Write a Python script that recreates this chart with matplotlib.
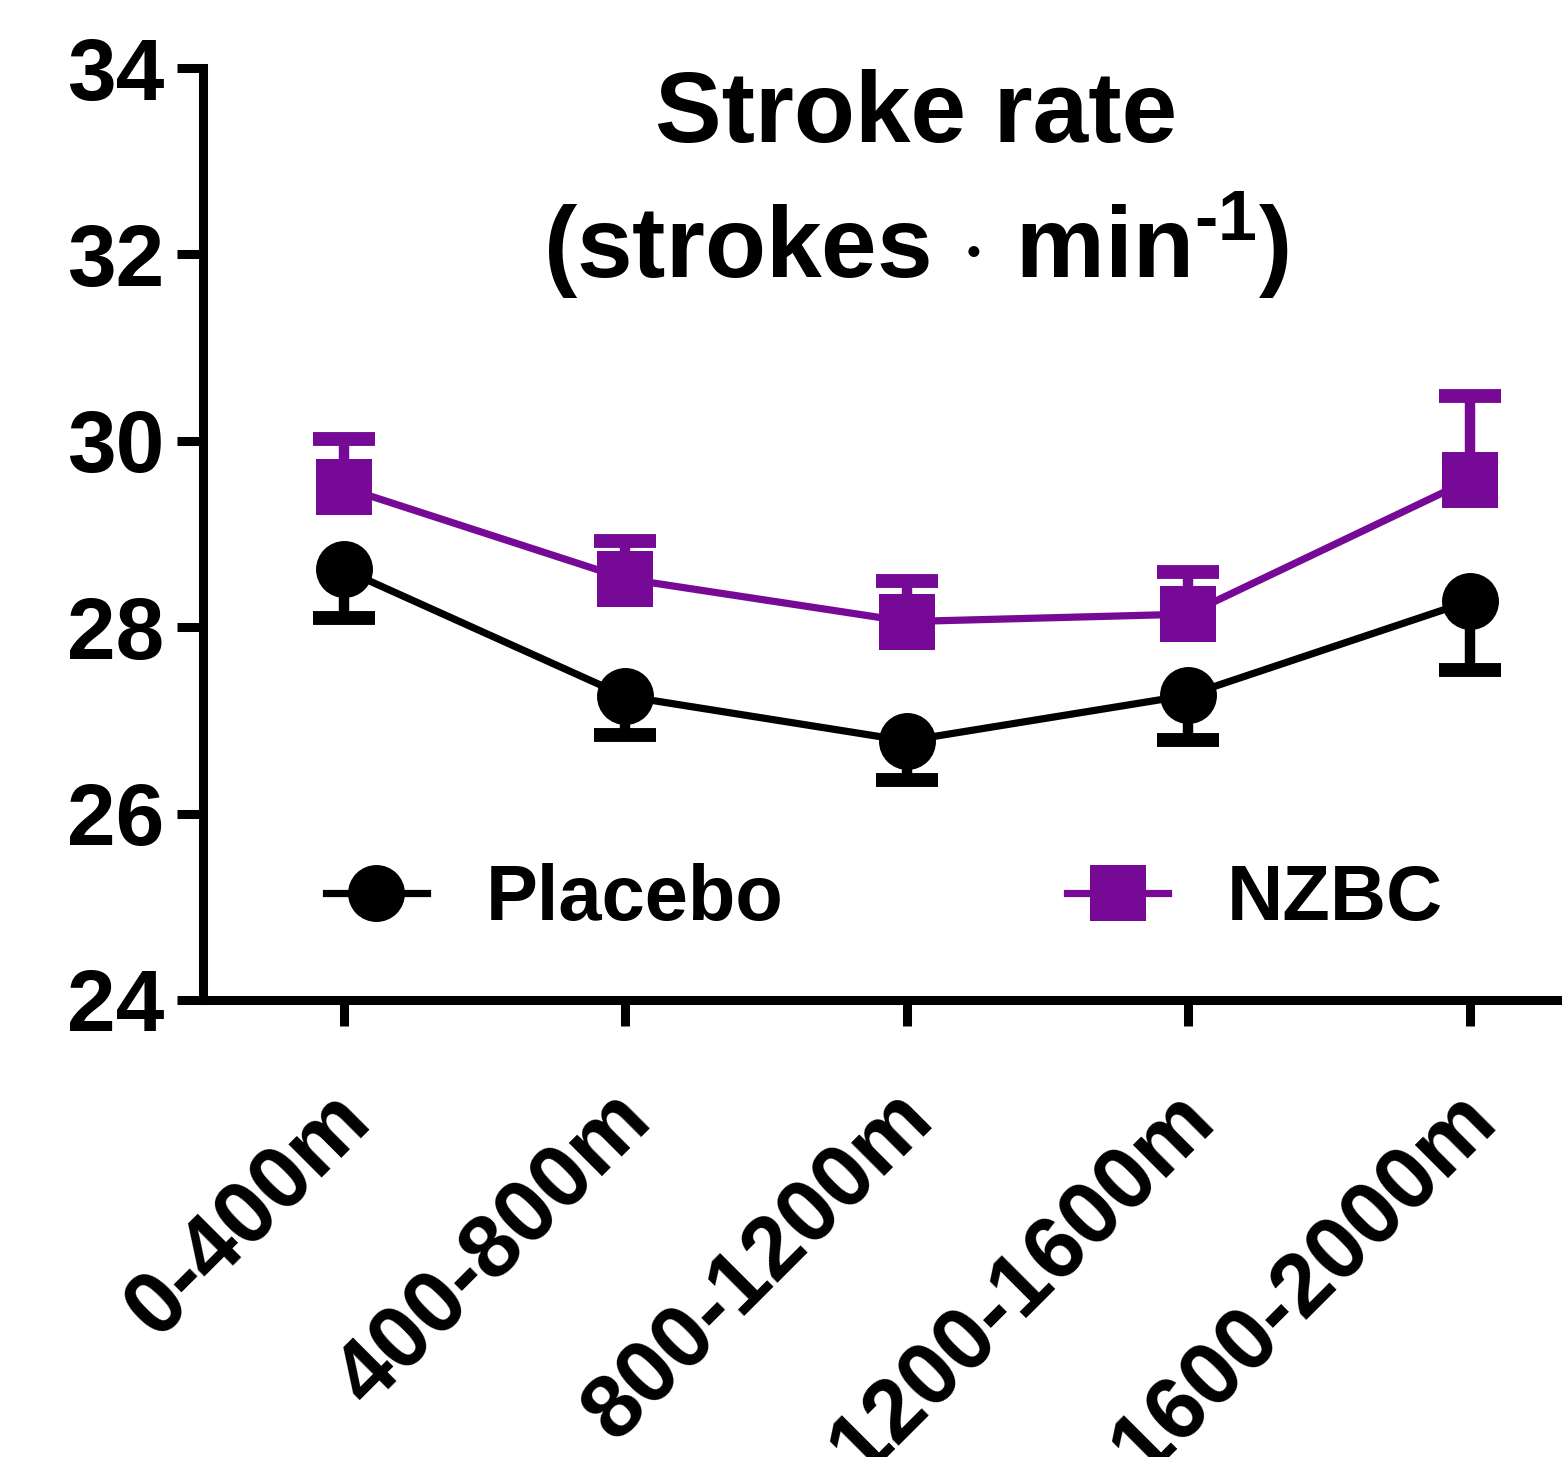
import numpy as np
import matplotlib
matplotlib.use('Agg')
import matplotlib.pyplot as plt
import matplotlib.transforms as mtransforms

plt.rcParams['font.family'] = ['Liberation Sans', 'DejaVu Sans']
plt.rcParams['font.weight'] = 'bold'
plt.rcParams['mathtext.fontset'] = 'custom'
plt.rcParams['mathtext.rm'] = 'Liberation Sans:bold'
plt.rcParams['mathtext.default'] = 'rm'

# data (mean and one-sided SEM)
segments = ['0-400m', '400-800m', '800-1200m', '1200-1600m', '1600-2000m']
placebo = [28.62, 27.26, 26.78, 27.27, 28.28]
placebo_err = [0.52, 0.42, 0.42, 0.48, 0.74]
nzbc = [29.50, 28.52, 28.06, 28.14, 29.58]
nzbc_err = [0.52, 0.40, 0.44, 0.45, 0.90]

purple = '#760A96'
x = np.arange(len(segments))

fig = plt.figure(figsize=(15.62, 14.57), dpi=100)
ax = fig.add_axes([0.13, 0.3137, 0.901, 0.6396])

def draw(vals, errs, color, marker, sign, label):
    vals = np.array(vals)
    errs = np.array(errs)
    ends = vals + sign * errs
    # error stems and caps (one-sided)
    ax.vlines(x, vals, ends, color=color, lw=7.5, zorder=2)
    ax.plot(x, ends, ls='none', marker='_', ms=45, mew=10, color=color, zorder=2)
    line, = ax.plot(x, vals, color=color, lw=5.2, marker=marker, ms=41,
                    markeredgewidth=0, zorder=3, label=label)
    return line

h1 = draw(placebo, placebo_err, 'black', 'o', -1, 'Placebo')
h2 = draw(nzbc, nzbc_err, purple, 's', 1, 'NZBC')

ax.set_xlim(-0.5, 4.5)
ax.set_ylim(24, 34)
ax.set_yticks([24, 26, 28, 30, 32, 34])
ax.set_xticks(x)

for s in ['top', 'right']:
    ax.spines[s].set_visible(False)
for s in ['left', 'bottom']:
    ax.spines[s].set_linewidth(6.5)

ax.tick_params(axis='y', length=19, width=6.5, labelsize=63, pad=9)
ax.tick_params(axis='x', length=19, width=6.5, labelsize=64, pad=56)

ax.set_xticklabels(segments, rotation=45, ha='right', va='center',
                   rotation_mode='anchor')
shift = mtransforms.ScaledTranslation(13 / 100, -2 / 100, fig.dpi_scale_trans)
for lab in ax.get_xticklabels():
    lab.set_transform(lab.get_transform() + shift)

ax.legend(handles=[h1, h2], loc='center', bbox_to_anchor=(0.484, 0.108),
          ncol=2, frameon=False, fontsize=56, numpoints=1,
          handlelength=1.3, handletextpad=0.75, columnspacing=3.65)

fig.text(0.5864, 1 - 142 / 1457, 'Stroke rate', ha='center', va='baseline',
         fontsize=72, fontweight='bold')
fig.text(0.5864, 1 - 277 / 1457, r'(strokes $\cdot$ min$^{\text{-1}}$)', ha='center',
         va='baseline', fontsize=72, fontweight='bold')

fig.savefig('out.png', dpi=100)
